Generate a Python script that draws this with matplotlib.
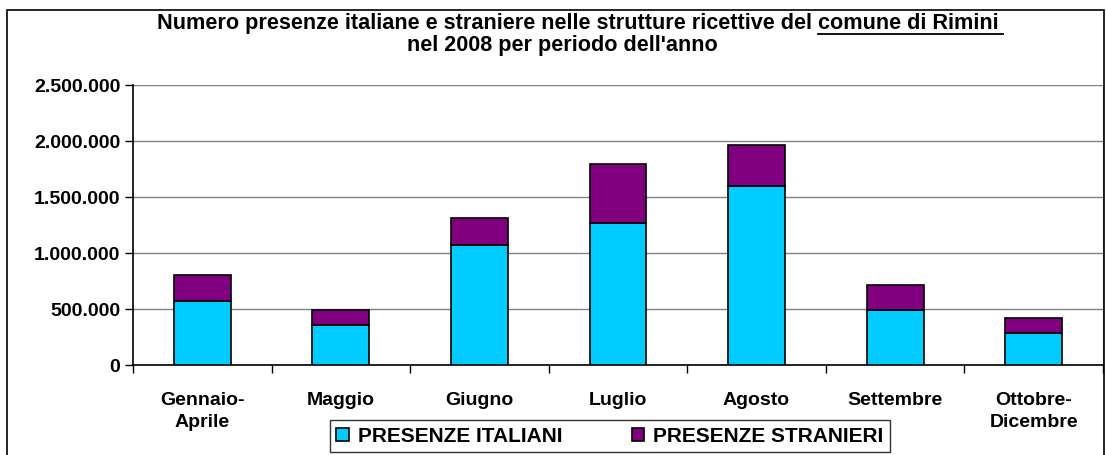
import matplotlib.pyplot as plt
import numpy as np
from matplotlib.lines import Line2D
from matplotlib.patches import Rectangle

# Presenze per periodo dell'anno, comune di Rimini 2008
periodi = ["Gennaio-\nAprile", "Maggio", "Giugno", "Luglio", "Agosto",
           "Settembre", "Ottobre-\nDicembre"]
italiani = [571000, 357000, 1071000, 1268000, 1601000, 494000, 288000]
stranieri = [233000, 134000, 242000, 527000, 363000, 220000, 132000]
yticks = [0, 500000, 1000000, 1500000, 2000000, 2500000]
serie = ["PRESENZE ITALIANI", "PRESENZE STRANIERI"]

plt.rcParams['font.family'] = ['Liberation Sans', 'DejaVu Sans']
plt.rcParams['font.weight'] = 'bold'

W, H = 1106, 456
fig = plt.figure(figsize=(W / 100, H / 100), dpi=100)
ax = fig.add_axes([133 / W, 1 - 366 / H, (1103 - 133) / W, (366 - 86) / H])

x = np.arange(len(periodi))
b1 = ax.bar(x, italiani, width=0.41, color="#00CCFF", edgecolor="black", linewidth=1.2,
            label=serie[0], zorder=3)
b2 = ax.bar(x, stranieri, bottom=italiani, width=0.41, color="#800080", edgecolor="black",
            linewidth=1.2, label=serie[1], zorder=3)

ax.set_xlim(-0.5, len(periodi) - 0.5)
ax.set_ylim(0, 2500000)
ax.set_yticks(yticks)
ax.set_yticklabels([f"{v:,}".replace(",", ".") for v in yticks], fontsize=14, fontweight='bold')
ax.yaxis.grid(True, color="#808080", linewidth=1, zorder=0)

# categorie sotto l'asse, tacche tra una categoria e l'altra
ax.set_xticks(x)
ax.set_xticklabels(periodi, fontsize=14, fontweight='bold', linespacing=1.35)
ax.tick_params(axis='x', length=0, pad=19)
ax.set_xticks(np.arange(-0.5, len(periodi)), minor=True)
ax.tick_params(axis='x', which='minor', length=6, width=1, direction='out')
ax.tick_params(axis='y', length=6, width=1, direction='out', pad=3)

ax.spines['top'].set_visible(False)
ax.spines['right'].set_color("#808080")
ax.spines['left'].set_linewidth(1.2)
ax.spines['bottom'].set_linewidth(1.2)

leg = fig.legend(handles=[b1, b2], loc='center', bbox_to_anchor=(610 / W, 1 - 437 / H),
                 ncol=2, frameon=True, fancybox=False, edgecolor='black',
                 handlelength=0.6, handleheight=0.6, handletextpad=0.45, columnspacing=3.3,
                 borderpad=0.3, prop={'weight': 'bold', 'size': 15})
leg.get_frame().set_linewidth(1)

# titolo su due righe, con "comune di Rimini" sottolineato
riga1 = "Numero presenze italiane e straniere nelle strutture ricettive del comune di Rimini"
t1 = fig.text(578 / W, 1 - 23 / H, riga1, ha='center', va='center', fontsize=15.6,
              fontweight='bold')
fig.text(562 / W, 1 - 46 / H, "nel 2008 per periodo dell'anno", ha='center', va='center',
         fontsize=15.6, fontweight='bold')

fig.canvas.draw()
r = fig.canvas.get_renderer()
bb = t1.get_window_extent(r)
tmp = fig.text(0, 0, "comune di Rimini", fontsize=15.6, fontweight='bold')
w = tmp.get_window_extent(r).width
tmp.remove()
yl = bb.y0 - 1
fig.add_artist(Line2D([bb.x1 - w, bb.x1 + 4], [yl, yl], transform=None, color='black',
                      linewidth=1.3))

# cornice del grafico
fig.add_artist(Rectangle((7 / W, -0.05), (1104 - 7) / W, 1.05 - 11 / H,
                         transform=fig.transFigure, fill=False, edgecolor='black',
                         linewidth=1.2))

fig.savefig("out.png", dpi=100)
